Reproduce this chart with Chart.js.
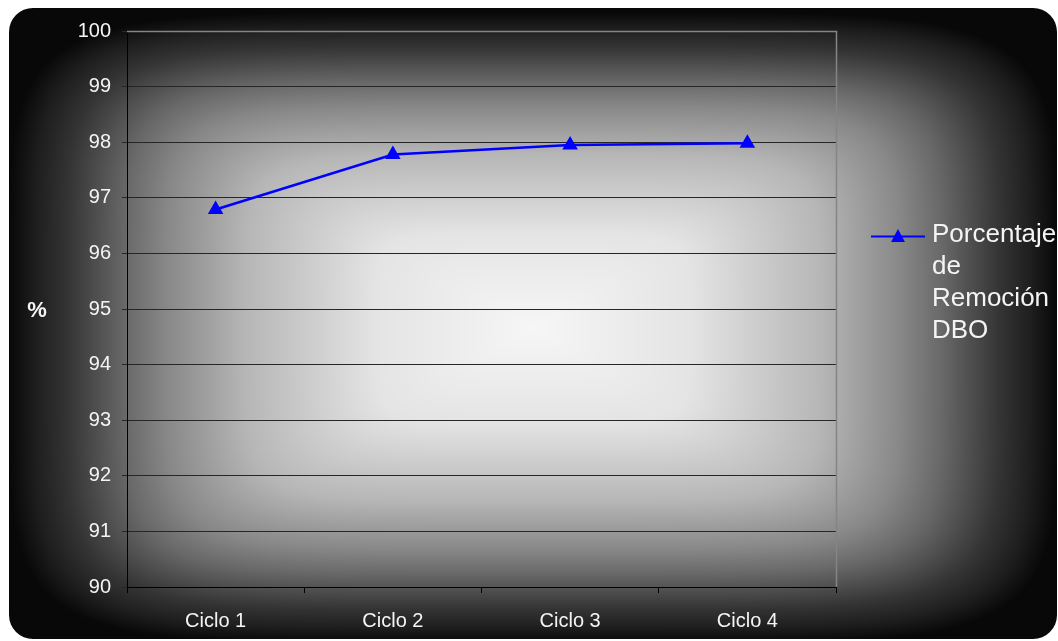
<!DOCTYPE html>
<html>
<head>
<meta charset="utf-8">
<script src="https://cdn.jsdelivr.net/npm/chart.js@4"></script>
<style>
html,body{margin:0;padding:0;background:#fff;}
#wrap{position:relative;width:1058px;height:641px;}
</style>
</head>
<body>
<div id="wrap"><canvas id="c" width="1058" height="641"></canvas></div>
<script>
const categories = ['Ciclo 1', 'Ciclo 2', 'Ciclo 3', 'Ciclo 4'];
const seriesLabel = 'Porcentaje de Remoción DBO';
const legendLines = ['Porcentaje', 'de', 'Remoción', 'DBO'];
const removalValues = [96.79, 97.78, 97.95, 97.98];
const yMin = 90, yMax = 100, yStep = 1;
const yAxisTitle = '%';

const FONT = 'Arial, "Liberation Sans", sans-serif';

let bgCanvas = null;
function buildBg(w, h) {
  const L = 9, T = 8, R = 1057, B = 639, rad = 24;
  const cx = (L + R) / 2, cy = (T + B) / 2 + 4;
  const hw = (R - L) / 2, hh = (B - T) / 2;
  const stops = [[0, 246], [0.3, 228], [0.55, 182], [0.7, 136], [0.78, 104], [0.89, 52], [0.95, 30], [1, 8]];
  function shade(t) {
    if (t >= 1) return stops[stops.length - 1][1];
    for (let i = 1; i < stops.length; i++) {
      if (t <= stops[i][0]) {
        const a = stops[i - 1], b = stops[i];
        const f = (t - a[0]) / (b[0] - a[0]);
        return a[1] + (b[1] - a[1]) * f;
      }
    }
    return 8;
  }
  const oc = document.createElement('canvas');
  oc.width = w; oc.height = h;
  const octx = oc.getContext('2d');
  const img = octx.createImageData(w, h);
  const p = 6;
  for (let y = 0; y < h; y++) {
    for (let x = 0; x < w; x++) {
      const dx = Math.abs(x - cx) / hw, dy = Math.abs(y - cy) / hh;
      const t = Math.pow(Math.pow(dx, p) + Math.pow(dy, p), 1 / p);
      const v = shade(t);
      const i = (y * w + x) * 4;
      img.data[i] = v; img.data[i + 1] = v; img.data[i + 2] = v; img.data[i + 3] = 255;
    }
  }
  octx.putImageData(img, 0, 0);
  const fc = document.createElement('canvas');
  fc.width = w; fc.height = h;
  const fctx = fc.getContext('2d');
  fctx.fillStyle = '#fff';
  fctx.fillRect(0, 0, w, h);
  fctx.save();
  fctx.beginPath();
  fctx.roundRect(L, T, R - L, B - T, rad);
  fctx.clip();
  fctx.drawImage(oc, 0, 0);
  fctx.restore();
  return fc;
}

const bgPlugin = {
  id: 'bg',
  beforeDraw(chart) {
    if (!bgCanvas) bgCanvas = buildBg(chart.width, chart.height);
    chart.ctx.drawImage(bgCanvas, 0, 0);
  },
  beforeDatasetsDraw(chart) {
    const ctx = chart.ctx;
    const a = chart.chartArea;
    ctx.save();
    ctx.strokeStyle = '#858585';
    ctx.lineWidth = 1.5;
    ctx.beginPath();
    ctx.moveTo(a.left, a.top + 0.5);
    ctx.lineTo(a.right + 0.5, a.top + 0.5);
    ctx.lineTo(a.right + 0.5, a.bottom);
    ctx.stroke();
    ctx.restore();
  },
  afterDraw(chart) {
    const ctx = chart.ctx;
    ctx.save();
    ctx.fillStyle = '#f4f4f4';
    ctx.font = 'bold 22px ' + FONT;
    ctx.textAlign = 'center';
    ctx.textBaseline = 'alphabetic';
    ctx.fillText(yAxisTitle, 37, 317);
    const ds = chart.data.datasets[0];
    ctx.strokeStyle = ds.borderColor;
    ctx.lineWidth = 2;
    ctx.beginPath();
    ctx.moveTo(871, 236.5);
    ctx.lineTo(925, 236.5);
    ctx.stroke();
    ctx.fillStyle = ds.pointBackgroundColor;
    ctx.beginPath();
    ctx.moveTo(898, 229);
    ctx.lineTo(905, 242);
    ctx.lineTo(891, 242);
    ctx.closePath();
    ctx.fill();
    ctx.fillStyle = '#f4f4f4';
    ctx.font = '26px ' + FONT;
    ctx.textAlign = 'left';
    ctx.textBaseline = 'alphabetic';
    legendLines.forEach((ln, i) => ctx.fillText(ln, 932, 242 + i * 32));
    ctx.restore();
  }
};

new Chart(document.getElementById('c'), {
  type: 'line',
  data: {
    labels: categories,
    datasets: [{
      label: seriesLabel,
      data: removalValues,
      borderColor: '#0000ff',
      backgroundColor: '#0000ff',
      pointBackgroundColor: '#0000ff',
      pointBorderColor: '#0000ff',
      borderWidth: 2.5,
      pointStyle: 'triangle',
      pointRadius: 9,
      pointBorderWidth: 0,
      tension: 0,
      fill: false
    }]
  },
  options: {
    responsive: false,
    animation: false,
    devicePixelRatio: 1,
    layout: { padding: { left: 0, top: 31, right: 222, bottom: 0 } },
    plugins: { legend: { display: false }, tooltip: { enabled: false } },
    scales: {
      x: {
        offset: true,
        grid: { display: true, offset: true, drawOnChartArea: false, drawTicks: true, tickLength: 6, color: '#000', lineWidth: 1 },
        border: { display: true, color: '#000', width: 1 },
        ticks: { color: '#f4f4f4', font: { family: FONT, size: 20 }, padding: 16, maxRotation: 0 },
        afterFit(s) { s.height = 54; }
      },
      y: {
        min: yMin, max: yMax,
        grid: { color: '#262626', lineWidth: 1, drawTicks: true, tickLength: 5 },
        border: { display: true, color: '#000', width: 1 },
        ticks: { stepSize: yStep, color: '#f4f4f4', font: { family: FONT, size: 20 }, padding: 11 },
        afterFit(s) { s.width = 127; }
      }
    }
  },
  plugins: [bgPlugin]
});
</script>
</body>
</html>
